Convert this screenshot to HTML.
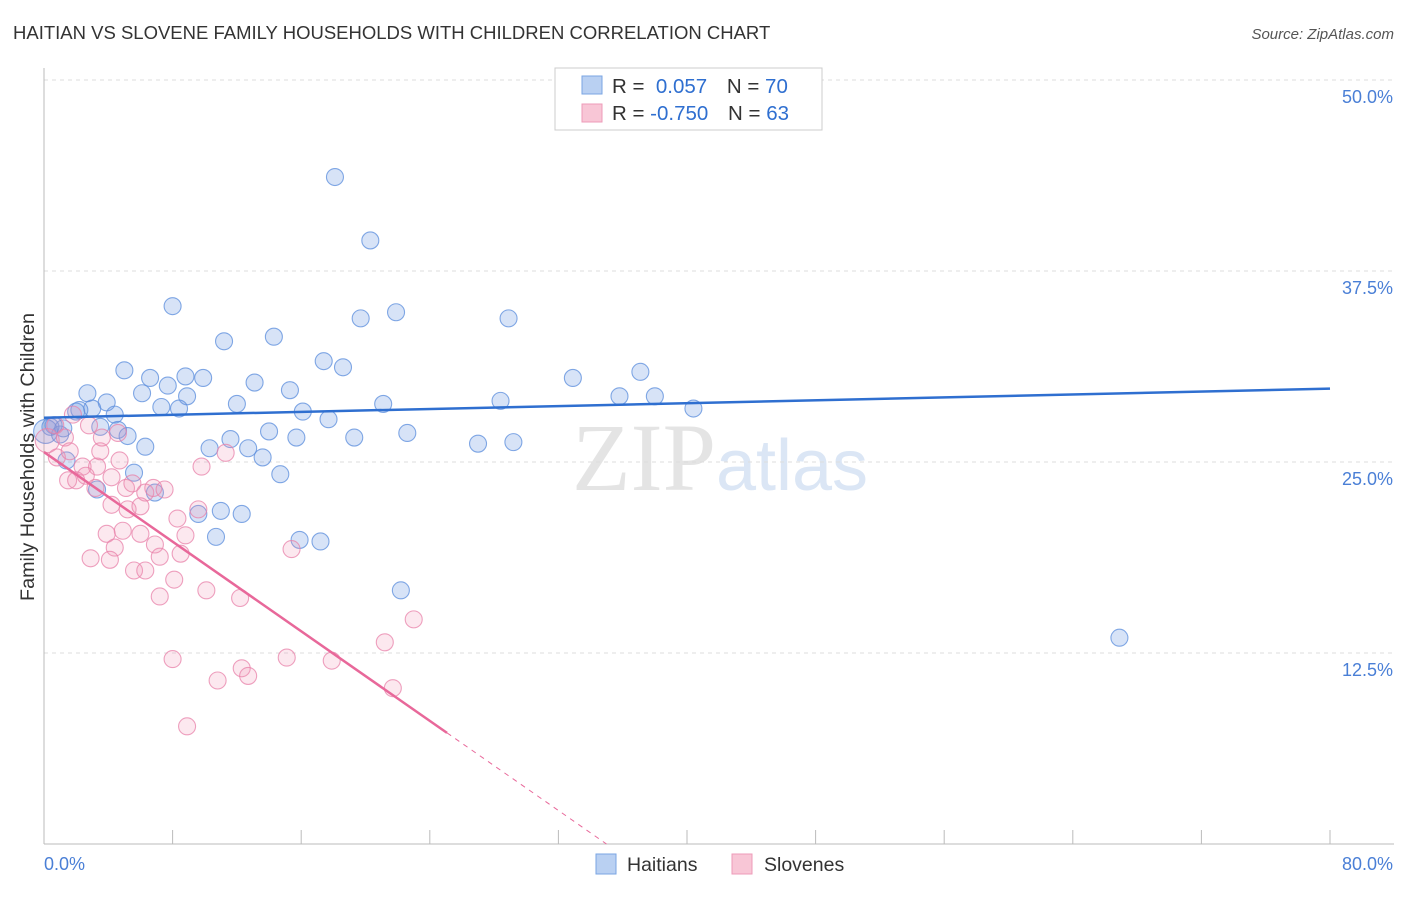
<!DOCTYPE html>
<html><head><meta charset="utf-8"><style>
body{margin:0;background:#fff;font-family:"Liberation Sans",sans-serif;}
</style></head><body>
<svg id="chart" width="1406" height="892" xmlns="http://www.w3.org/2000/svg" font-family="Liberation Sans, sans-serif">
<text x="13" y="39" font-size="18.5" fill="#333">HAITIAN VS SLOVENE FAMILY HOUSEHOLDS WITH CHILDREN CORRELATION CHART</text>
<text x="1394" y="39" font-size="15" fill="#555" text-anchor="end" font-style="italic">Source: ZipAtlas.com</text>
<text x="720" y="490" font-size="96" text-anchor="middle" fill="#e4e4e4" font-family="Liberation Serif, serif">ZIP<tspan fill="#dbe6f5" font-family="Liberation Sans, sans-serif" font-size="72">atlas</tspan></text>
<g id="grid"></g>
<g id="axes"></g>
<g id="marks"></g>
<text transform="translate(34,457) rotate(-90)" font-size="19.8" fill="#333" text-anchor="middle">Family Households with Children</text>
<g>
<rect x="555" y="68" width="267" height="62" fill="#fff" stroke="#ccc"/>
<rect x="582" y="76" width="20" height="18" fill="#b9d0f2" stroke="#7aa5e3"/>
<rect x="582" y="104" width="20" height="18" fill="#f8c6d6" stroke="#ee9bb8"/>
<text x="612" y="93" font-size="20.5" fill="#333">R = <tspan fill="#2f6fd0">&#160;0.057</tspan>   <tspan dx="14">N = </tspan><tspan fill="#2f6fd0">70</tspan></text>
<text x="612" y="120" font-size="20.5" fill="#333">R = <tspan fill="#2f6fd0">-0.750</tspan>   <tspan dx="14">N = </tspan><tspan fill="#2f6fd0">63</tspan></text>
</g>
<g>
<rect x="596" y="854" width="20" height="20" fill="#b9d0f2" stroke="#7aa5e3"/>
<text x="627" y="871" font-size="19.5" fill="#333">Haitians</text>
<rect x="732" y="854" width="20" height="20" fill="#f8c6d6" stroke="#ee9bb8"/>
<text x="764" y="871" font-size="19.5" fill="#333">Slovenes</text>
</g>
</svg>
<script>
const blueX=[18.1,20.3,8.0,21.9,19.7,28.9,11.2,14.3,17.4,18.6,5.0,6.6,8.8,9.9,7.7,13.1,15.3,2.7,6.1,8.9,32.9,37.1,35.8,38.0,28.4,3.9,12.0,21.1,3.0,7.3,8.4,40.4,2.0,16.1,4.4,17.7,0.6,3.5,4.6,0.1,1.0,5.2,14.0,22.6,11.6,15.7,19.3,6.3,10.3,12.7,27.0,29.2,13.6,1.4,5.6,14.7,3.3,6.9,11.0,9.6,12.3,10.7,15.9,17.2,22.2,66.9,0.4,1.2,2.2];
const blueY=[43.65,39.5,35.2,34.8,34.4,34.4,32.9,33.2,31.6,31.2,31.0,30.5,30.6,30.5,30.0,30.2,29.7,29.5,29.5,29.3,30.5,30.9,29.3,29.3,29.0,28.9,28.8,28.8,28.5,28.6,28.5,28.5,28.3,28.3,28.1,27.8,27.4,27.3,27.1,27.0,26.8,26.7,27.0,26.9,26.5,26.6,26.6,26.0,25.9,25.9,26.2,26.3,25.3,25.1,24.3,24.2,23.2,23.0,21.8,21.6,21.6,20.1,19.9,19.8,16.6,13.5,27.3,27.2,28.4];
const pinkX=[0.2,0.7,0.8,1.3,1.8,1.6,2.4,2.8,1.5,2.0,3.3,3.5,2.6,4.2,3.6,4.6,4.7,3.2,4.2,5.1,5.5,6.3,6.8,7.5,5.2,6.0,3.9,4.9,6.0,4.4,6.9,2.9,4.1,7.2,8.5,8.3,8.8,5.6,6.3,8.1,7.2,10.1,12.2,9.6,9.8,11.3,15.4,8.0,10.8,12.3,12.7,15.1,17.9,21.2,21.7,23.0,8.9];
const pinkY=[26.4,27.4,25.3,26.6,28.1,25.7,24.7,27.4,23.8,23.8,24.7,25.7,24.1,24.0,26.6,26.9,25.1,23.3,22.2,23.3,23.6,23.0,23.3,23.2,21.9,22.1,20.3,20.5,20.3,19.4,19.6,18.7,18.6,18.8,19.0,21.3,20.2,17.9,17.9,17.3,16.2,16.6,16.1,21.9,24.7,25.6,19.3,12.1,10.7,11.5,11.0,12.2,12.0,13.2,10.2,14.7,7.7];
const blueTrend=[27.9,29.8];      // y at x=0 and x=80
const pinkTrend=[25.65,-0.733];   // intercept, slope
const yTicks=[12.5,25.0,37.5,50.0];
const xTickLabels=["0.0%","80.0%"];
const NS="http://www.w3.org/2000/svg";
const sx=v=>44+v*16.075, sy=v=>844-v*15.28;
function mk(t,a,p){const e=document.createElementNS(NS,t);for(const k in a)e.setAttribute(k,a[k]);p.appendChild(e);return e;}
const grid=document.getElementById('grid'),axes=document.getElementById('axes'),marks=document.getElementById('marks');
yTicks.forEach(v=>{
 const l=mk('line',{x1:44,x2:1394,y1:sy(v),y2:sy(v),stroke:'#ddd','stroke-dasharray':'4,4'},grid);
 
 
 const t=mk('text',{x:1393,y:sy(v)+23,'font-size':18,fill:'#4a7fd6','text-anchor':'end'},axes);
 t.textContent=v.toFixed(1)+'%';
 
 
});
mk('line',{x1:44,x2:44,y1:68,y2:844,stroke:'#bbb'},axes);
mk('line',{x1:44,x2:1394,y1:844,y2:844,stroke:'#bbb'},axes);
for(let i=0;i<=10;i++){const x=sx(i*8);mk('line',{x1:x,x2:x,y1:830,y2:844,stroke:'#bbb'},axes);}
const xl0=mk('text',{x:44,y:870,'font-size':18,fill:'#4a7fd6'},axes);xl0.textContent=xTickLabels[0];


const xl1=mk('text',{x:1393,y:870,'font-size':18,fill:'#4a7fd6','text-anchor':'end'},axes);xl1.textContent=xTickLabels[1];


blueX.forEach((x,i)=>{const c=mk('circle',{cx:sx(x),cy:sy(blueY[i]),r:i==39?12:8.5,fill:'rgba(110,155,228,0.28)',stroke:'rgba(90,140,220,0.75)','stroke-width':1.1},marks);
 
 });
pinkX.forEach((x,i)=>{const c=mk('circle',{cx:sx(x),cy:sy(pinkY[i]),r:i==0?12:8.5,fill:'rgba(242,150,182,0.22)',stroke:'rgba(232,130,170,0.75)','stroke-width':1.1},marks);
 
 });
const bl=mk('line',{x1:sx(0),y1:sy(blueTrend[0]),x2:sx(80),y2:sy(blueTrend[1]),stroke:'#2f6fd0','stroke-width':2.5},marks);


const xe=25.07, x0=-pinkTrend[0]/pinkTrend[1];
const pl=mk('line',{x1:sx(0),y1:sy(pinkTrend[0]),x2:sx(xe),y2:sy(pinkTrend[0]+pinkTrend[1]*xe),stroke:'#e8689a','stroke-width':2.5},marks);


const pd=mk('line',{x1:sx(xe),y1:sy(pinkTrend[0]+pinkTrend[1]*xe),x2:sx(x0),y2:sy(0),stroke:'#e8689a','stroke-width':1,'stroke-dasharray':'5,5'},marks);


</script>
</body></html>
